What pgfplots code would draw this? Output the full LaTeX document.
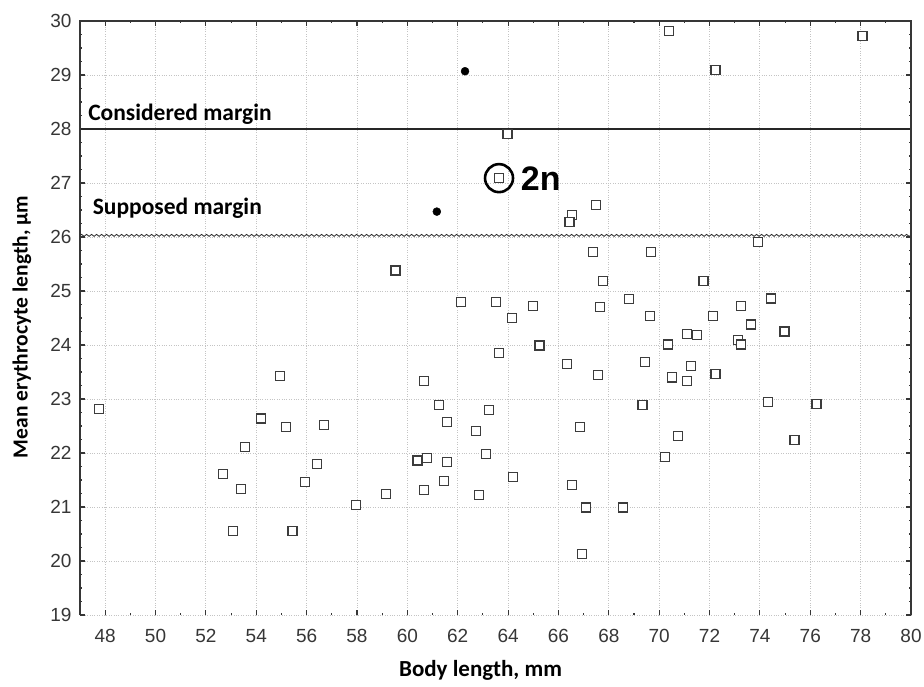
\documentclass[border=0pt]{standalone}
\usepackage{fontspec}
\setmainfont{Liberation Sans}
\newfontfamily\carlito{Carlito}
\usepackage{pgfplots}
\pgfplotsset{compat=1.18}
\usetikzlibrary{decorations.pathmorphing}
\definecolor{tickgray}{HTML}{363636}
\definecolor{markgray}{HTML}{3C3C3C}
\definecolor{gridgray}{HTML}{C4C4C4}
\begin{document}
\begin{tikzpicture}
\useasboundingbox (-80pt,-71pt) rectangle (844pt,615pt);
\begin{axis}[
  name=ax,
  scale only axis, width=831pt, height=594pt,
  xmin=47, xmax=80, ymin=19, ymax=30,
  xtick={48,50,...,80}, ytick={19,...,30},
  minor x tick num=1, minor y tick num=3,
  tick align=inside,
  major tick length=5pt, minor tick length=2.5pt,
  tick style={tickgray, line width=1.1pt},
  grid=major, major grid style={gridgray, dotted, line width=0.9pt},
  axis line style={draw=none},
  ticklabel style={font=\fontsize{19}{22}\selectfont, text=tickgray},
  /pgf/number format/assume math mode=true,
  xticklabel style={yshift=-11pt},
  yticklabel style={xshift=-5pt},
  xlabel={\carlito\bfseries\fontsize{23}{27}\selectfont Body length, mm},
  ylabel={\carlito\bfseries\fontsize{21.5}{25}\selectfont Mean erythrocyte length, µm},
  xlabel style={at={(axis description cs:0.482,-0.094)}, anchor=center},
  ylabel style={at={(axis description cs:-0.07,0.485)}, anchor=center},
  clip=false,
]
\addplot[black!85, line width=2pt] coordinates {(47,28) (80,28)};
\addplot[black!85, line width=0.8pt, decorate, decoration={snake, amplitude=1pt, segment length=5pt}] coordinates {(47,26.03) (80,26.03)};
\addplot[only marks, mark=square*, mark size=4.5pt, mark options={draw=markgray, fill=white, line width=1.2pt}] table {
x y
47.75 22.81
52.67 21.61
53.07 20.55
53.38 21.33
53.56 22.11
54.20 22.64
54.94 23.43
55.17 22.48
55.44 20.55
55.93 21.46
56.42 21.79
56.70 22.52
57.95 21.03
59.14 21.24
59.53 25.38
60.40 21.86
60.67 23.33
60.67 21.31
60.77 21.91
61.25 22.89
61.46 21.48
61.56 22.57
61.56 21.84
62.14 24.79
62.74 22.41
62.85 21.22
63.13 21.98
63.24 22.80
63.53 24.79
63.64 23.85
63.64 27.09
63.98 27.91
64.17 24.50
64.18 21.56
64.98 24.72
65.25 23.99
66.33 23.65
66.53 26.41
66.44 26.28
66.53 21.41
66.84 22.48
66.93 20.13
67.10 20.99
67.37 25.72
67.48 26.59
67.57 23.44
67.66 24.70
67.77 25.19
68.56 20.99
68.80 24.85
69.34 22.89
69.45 23.69
69.64 24.53
69.68 25.72
70.24 21.93
70.34 24.01
70.39 29.82
70.52 23.40
70.76 22.31
71.11 24.21
71.11 23.33
71.27 23.61
71.50 24.18
71.76 25.19
72.14 24.53
72.24 23.47
72.24 29.09
73.14 24.09
73.24 24.01
73.24 24.72
73.64 24.38
73.93 25.90
74.33 22.94
74.43 24.86
74.98 24.25
75.37 22.24
76.25 22.91
78.07 29.72
};
\addplot[only marks, mark=*, mark size=4pt, mark options={fill=black, draw=black}] coordinates {(61.17,26.47) (62.29,29.07)};
\addplot[only marks, mark=o, mark size=14pt, mark options={draw=black, line width=2.6pt}] coordinates {(63.64,27.09)};
\node[anchor=west, inner sep=0pt, font=\fontsize{34}{38}\selectfont\bfseries] at (axis cs:64.5,27.09) {2n};
\node[anchor=west, inner sep=0pt, font=\carlito\bfseries\fontsize{23.5}{27}\selectfont] at (axis cs:47.32,28.28) {Considered margin};
\node[anchor=west, inner sep=0pt, font=\carlito\bfseries\fontsize{23.5}{27}\selectfont] at (axis cs:47.5,26.54) {Supposed margin};
\end{axis}
\draw[tickgray, line width=1.8pt] (ax.south west) -- (ax.north west) -- (ax.north east) -- (ax.south east);
\end{tikzpicture}
\end{document}
